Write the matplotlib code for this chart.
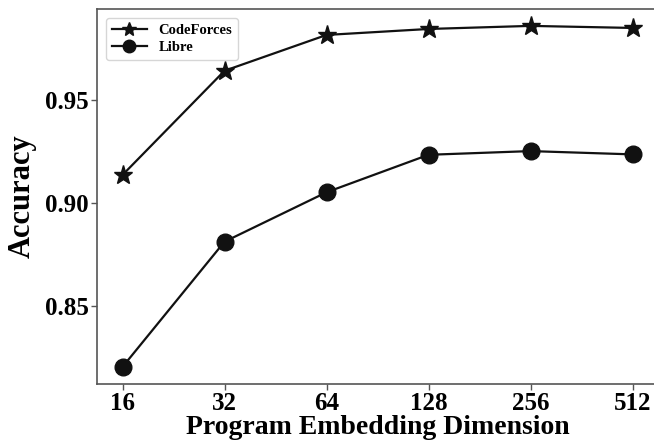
import matplotlib.pyplot as plt

plt.rcParams.update({
    'font.family': 'Liberation Serif',
    'font.weight': 'bold',
    'axes.labelweight': 'bold',
})

dims = ['16', '32', '64', '128', '256', '512']
codeforces = [0.9136, 0.9642, 0.9816, 0.9845, 0.9860, 0.9850]
libre = [0.8204, 0.8812, 0.9052, 0.9234, 0.9252, 0.9236]

fig = plt.figure(figsize=(6.54, 4.45), dpi=100)
ax = fig.add_axes([97 / 654, 1 - 384 / 445, (658 - 97) / 654, (384 - 9) / 445])

x = range(len(dims))
ax.plot(x, codeforces, color='#111111', marker='*', markersize=14, linewidth=1.6, label='CodeForces')
ax.plot(x, libre, color='#111111', marker='o', markersize=12, linewidth=1.6, label='Libre')

ax.set_xticks(list(x))
ax.set_xticklabels(dims)
ax.set_xlim(-0.25, 5.25)
ax.set_ylim(0.8121, 0.9942)
ax.set_yticks([0.85, 0.90, 0.95])
ax.set_yticklabels(['0.85', '0.90', '0.95'])
ax.tick_params(labelsize=18, length=4, width=1, color='#555555', pad=2)

for s in ax.spines.values():
    s.set_color('#555555')
    s.set_linewidth(1.2)

ax.set_xlabel('Program Embedding Dimension', fontsize=20, labelpad=0)
ax.set_ylabel('Accuracy', fontsize=22, labelpad=6)

leg = ax.legend(loc='upper left', prop={'weight': 'bold', 'size': 10.5},
                markerscale=0.75, handlelength=2.4, labelspacing=0.3,
                borderaxespad=0.6)
leg.get_frame().set_edgecolor('#cccccc')

fig.savefig('out.png', dpi=100)
